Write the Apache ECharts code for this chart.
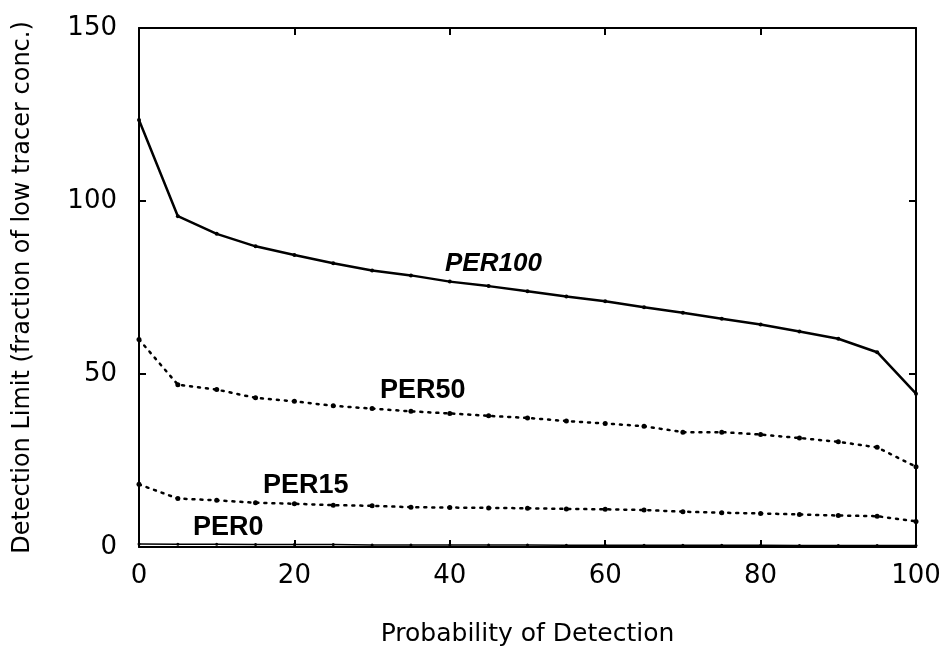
<!DOCTYPE html>
<html><head><meta charset="utf-8">
<script src="https://cdn.jsdelivr.net/npm/echarts@6/dist/echarts.min.js"></script>
<style>html,body{margin:0;padding:0;background:#fff}#c{width:949px;height:653px}</style>
</head><body><div id="c"></div>
<script>
const xValues = [0,5,10,15,20,25,30,35,40,45,50,55,60,65,70,75,80,85,90,95,100];
const per100 = [123.4,95.6,90.5,86.9,84.4,82.0,79.9,78.5,76.7,75.4,73.9,72.4,71.0,69.3,67.7,66.0,64.3,62.3,60.2,56.3,44.3];
const per50 = [60.0,46.9,45.5,43.1,42.1,40.8,40.0,39.2,38.6,37.9,37.3,36.4,35.7,34.9,33.2,33.2,32.5,31.5,30.4,28.8,23.2];
const per15 = [18.1,14.0,13.5,12.8,12.5,12.1,11.9,11.5,11.4,11.3,11.2,11.0,10.9,10.7,10.2,9.9,9.7,9.4,9.1,8.9,7.4];
const per0 = [0.9,0.8,0.8,0.7,0.7,0.7,0.6,0.6,0.6,0.6,0.6,0.5,0.5,0.5,0.5,0.5,0.5,0.4,0.4,0.4,0.4];
const xTicks = [0,20,40,60,80,100];
const yTicks = [0,50,100,150];
const seriesNames = ['PER100','PER50','PER15','PER0'];

const pair = arr => xValues.map((x,i)=>[x,arr[i]]);
const font = '"DejaVu Sans", sans-serif';
const lblFont = '"Liberation Sans", Arial, sans-serif';
const axisCommon = {
  axisLine:{show:true,onZero:false,lineStyle:{color:'#000',width:2}},
  axisTick:{show:true,inside:true,length:7,lineStyle:{color:'#000',width:2}},
  splitLine:{show:false}
};
const chart = echarts.init(document.getElementById('c'));
chart.setOption({
  animation:false,
  backgroundColor:'#fff',
  grid:{left:139,right:33,top:28,bottom:106},
  xAxis:[
    Object.assign({type:'value',min:xTicks[0],max:xTicks[xTicks.length-1],interval:20,position:'bottom',
      name:'Probability of Detection',nameLocation:'middle',nameGap:75,
      nameTextStyle:{fontFamily:font,fontSize:25,color:'#000'},
      axisLabel:{fontFamily:font,fontSize:26,color:'#000',margin:16}},axisCommon),
    Object.assign({type:'value',min:0,max:100,interval:20,position:'top',axisLabel:{show:false}},axisCommon)
  ],
  yAxis:[
    Object.assign({type:'value',min:yTicks[0],max:yTicks[yTicks.length-1],interval:50,position:'left',
      name:'Detection Limit (fraction of low tracer conc.)',nameLocation:'middle',nameGap:104,
      nameTextStyle:{fontFamily:font,fontSize:24,color:'#000'},
      axisLabel:{fontFamily:font,fontSize:26,color:'#000',margin:22}},axisCommon),
    Object.assign({type:'value',min:0,max:150,interval:50,position:'right',axisLabel:{show:false}},axisCommon)
  ],
  series:[
    {name:seriesNames[0],type:'line',data:pair(per100),symbol:'circle',symbolSize:4,
      itemStyle:{color:'#000'},lineStyle:{color:'#000',width:2.5}},
    {name:seriesNames[1],type:'line',data:pair(per50),symbol:'circle',symbolSize:5,
      itemStyle:{color:'#000'},lineStyle:{color:'#000',width:2.5,type:[2,6],cap:'round'}},
    {name:seriesNames[2],type:'line',data:pair(per15),symbol:'circle',symbolSize:5,
      itemStyle:{color:'#000'},lineStyle:{color:'#000',width:2.5,type:[2,6],cap:'round'}},
    {name:seriesNames[3],type:'line',data:pair(per0),symbol:'circle',symbolSize:3,
      itemStyle:{color:'#000'},lineStyle:{color:'#000',width:1.5}}
  ],
  graphic:[
    {type:'text',left:445,top:251,style:{text:seriesNames[0],font:'italic bold 26px '+lblFont,fill:'#000'}},
    {type:'text',left:380,top:377,style:{text:seriesNames[1],font:'bold 27px '+lblFont,fill:'#000'}},
    {type:'text',left:263,top:472,style:{text:seriesNames[2],font:'bold 27px '+lblFont,fill:'#000'}},
    {type:'text',left:193,top:514,style:{text:seriesNames[3],font:'bold 27px '+lblFont,fill:'#000'}}
  ]
});
</script></body></html>
